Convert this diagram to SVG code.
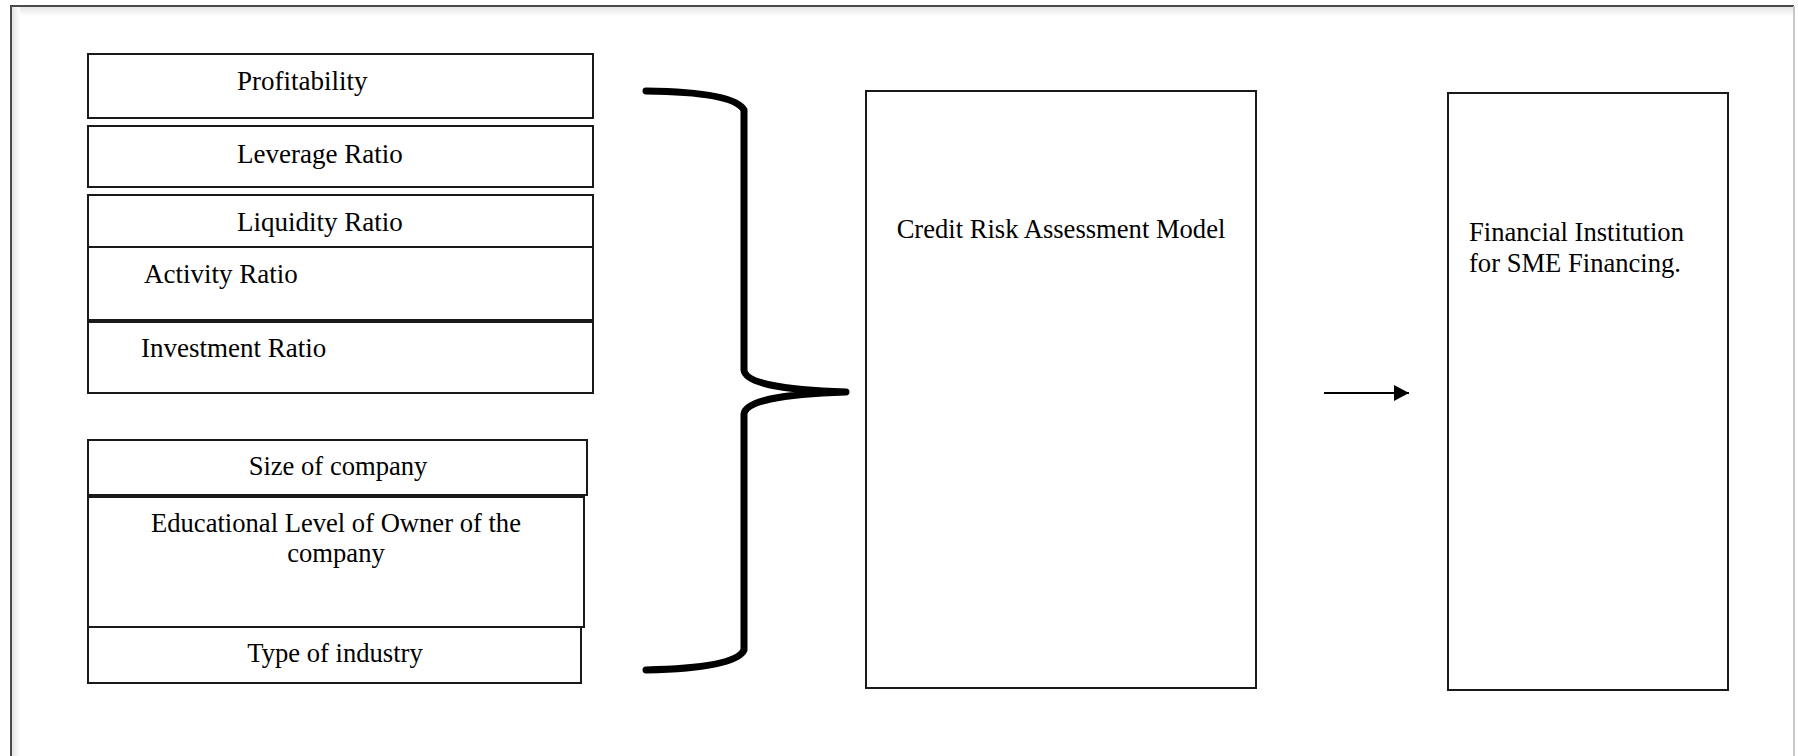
<svg xmlns="http://www.w3.org/2000/svg" width="1798" height="756" viewBox="0 0 1798 756">
  <style>
    .box { fill: #ffffff; stroke: #1a1a1a; stroke-width: 2; }
    .lbl { font-family: "Liberation Serif", "Times New Roman", serif; font-size: 27px; fill: #000; }
    .lbl2 { font-family: "Liberation Serif", "Times New Roman", serif; font-size: 26.6px; fill: #000; }
    .mid { text-anchor: middle; }
    .brace { fill: none; stroke: #000; stroke-width: 7; stroke-linecap: round; stroke-linejoin: round; }
    .arrow { fill: none; stroke: #000; stroke-width: 1.8; }
  </style>
  <defs>
    <linearGradient id="shade" x1="0" y1="0" x2="0" y2="1">
      <stop offset="0" stop-color="#e4e4e4"/>
      <stop offset="1" stop-color="#ffffff"/>
    </linearGradient>
    <linearGradient id="shadeL" x1="0" y1="0" x2="1" y2="0">
      <stop offset="0" stop-color="#e4e4e4"/>
      <stop offset="1" stop-color="#ffffff"/>
    </linearGradient>
    <marker id="ah" viewBox="0 0 15 16" refX="15" refY="8" markerWidth="15" markerHeight="16" markerUnits="userSpaceOnUse" orient="auto">
      <path d="M0,0 L15,8 L0,16 Z" fill="#000"/>
    </marker>
  </defs>

  <rect x="0" y="0" width="1798" height="756" fill="#ffffff"/>

  <g id="frame">
    <rect x="12" y="7" width="1781" height="9" fill="url(#shade)"/>
    <rect x="12" y="7" width="8" height="749" fill="url(#shadeL)"/>
    <path d="M11,756 L11,6 L1794,6" fill="none" stroke="#4a4a4a" stroke-width="2"/>
    <path d="M1794,6 L1794,756" fill="none" stroke="#c8c8c8" stroke-width="2"/>
  </g>

  <g id="profitability">
    <rect class="box" x="88" y="54" width="505" height="64"/>
    <text class="lbl" x="237" y="90">Profitability</text>
  </g>
  <g id="leverage-ratio">
    <rect class="box" x="88" y="126" width="505" height="61"/>
    <text class="lbl" x="237" y="163">Leverage Ratio</text>
  </g>
  <g id="liquidity-ratio">
    <rect class="box" x="88" y="195" width="505" height="52"/>
    <text class="lbl" x="237" y="231">Liquidity Ratio</text>
  </g>
  <g id="activity-ratio">
    <rect class="box" x="88" y="247" width="505" height="73"/>
    <text class="lbl" x="144" y="283">Activity Ratio</text>
  </g>
  <g id="investment-ratio">
    <rect class="box" x="88" y="322" width="505" height="71"/>
    <text class="lbl" x="141" y="357">Investment Ratio</text>
  </g>

  <g id="size-of-company">
    <rect class="box" x="88" y="440" width="499" height="55"/>
    <text class="lbl2 mid" x="338" y="475">Size of company</text>
  </g>
  <g id="educational-level">
    <rect class="box" x="88" y="497" width="496" height="130"/>
    <text class="lbl2 mid" x="336" y="532">Educational Level of Owner of the</text>
    <text class="lbl2 mid" x="336" y="562">company</text>
  </g>
  <g id="type-of-industry">
    <rect class="box" x="88" y="627" width="493" height="56"/>
    <text class="lbl2 mid" x="335" y="662">Type of industry</text>
  </g>

  <g id="credit-risk-model">
    <rect class="box" x="866" y="91" width="390" height="597"/>
    <text class="lbl2 mid" x="1061" y="238">Credit Risk Assessment Model</text>
  </g>

  <g id="financial-institution">
    <rect class="box" x="1448" y="93" width="280" height="597"/>
    <text class="lbl2" x="1469" y="241">Financial Institution</text>
    <text class="lbl2" x="1469" y="272">for SME Financing.</text>
  </g>

  <g id="connectors">
    <path class="brace" d="M646,91 Q734,92 744,110 L744,370 Q746,389 846,392 Q746,395 744,414 L744,650 Q736,668 646,670"/>
    <line class="arrow" x1="1324" y1="393" x2="1409" y2="393" marker-end="url(#ah)"/>
  </g>
</svg>
